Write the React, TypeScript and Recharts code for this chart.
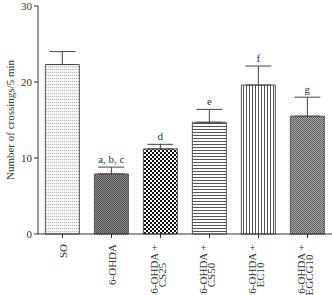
import { BarChart, Bar, XAxis, YAxis, ErrorBar, Cell, LabelList } from "recharts";

const groups = ["SO", "6-OHDA", "6-OHDA +\nCS25", "6-OHDA +\nCS50", "6-OHDA +\nEC10", "6-OHDA +\nEGCG10"];
const crossings = [22.3, 7.9, 11.2, 14.7, 19.6, 15.5];
const sem = [1.7, 0.9, 0.6, 1.7, 2.5, 2.5];
const marks = ["", "a, b, c", "d", "e", "f", "g"];
const fills = ["url(#pSO)", "url(#pOH)", "url(#pCS25)", "url(#pCS50)", "url(#pEC10)", "url(#pEGCG)"];
const yTicks = [0, 10, 20, 30];

const data = groups.map((g, i) => ({
  group: g,
  value: crossings[i],
  err: [0, sem[i]],
  sem: sem[i],
  mark: marks[i],
}));

const serif = "'Liberation Serif', 'Times New Roman', serif";
const ink = "#333";

function GroupTick(props: any) {
  const { x, y, payload } = props;
  const lines = String(payload.value).split("\n");
  if (lines.length === 1) {
    return (
      <text
        transform={`translate(${x + 4},${y + 4}) rotate(-90)`}
        textAnchor="end"
        fontFamily={serif}
        fontSize={11}
        fill={ink}
      >
        {lines[0]}
      </text>
    );
  }
  return (
    <g>
      {lines.map((l, i) => (
        <text
          key={i}
          transform={`translate(${x - 3 + i * 8},${y + (i === 0 ? 29 : 35)}) rotate(-90)`}
          textAnchor="middle"
          fontFamily={serif}
          fontSize={11}
          fill={ink}
        >
          {l}
        </text>
      ))}
    </g>
  );
}

function MarkLabel(props: any) {
  const { x, y, width, height, value, index } = props;
  if (!value) return null;
  const d = data[index];
  const top = y - (d.sem * height) / d.value;
  return (
    <text x={x + width / 2} y={top - 4} textAnchor="middle" fontFamily={serif} fontSize={11} fill={ink}>
      {value}
    </text>
  );
}

const yTitle = () => (
  <text
    transform="translate(14,120) rotate(-90)"
    textAnchor="middle"
    fontFamily={serif}
    fontSize={11}
    fill={ink}
  >
    Number of crossings/5 min
  </text>
);

export default function App() {
  return (
    <div style={{ position: "absolute", left: 0, top: 0, width: 332, height: 295, background: "#fff" }}>
      <BarChart width={332} height={295} data={data} margin={{ top: 6, right: 0, left: 0, bottom: 0 }} barCategoryGap="15%">
        <defs>
          <pattern id="pSO" width="2" height="3" patternUnits="userSpaceOnUse">
            <rect width="2" height="3" fill="#f4f4f4" />
            <rect width="1" height="1" fill="#b5b5b5" />
          </pattern>
          <pattern id="pOH" width="2" height="2" patternUnits="userSpaceOnUse">
            <rect width="2" height="2" fill="#8a8a8a" />
            <rect width="1" height="1" fill="#4f4f4f" />
            <rect x="1" y="1" width="1" height="1" fill="#4f4f4f" />
          </pattern>
          <pattern id="pCS25" width="4" height="4" patternUnits="userSpaceOnUse">
            <rect width="4" height="4" fill="#fff" />
            <rect width="2" height="2" fill="#111" />
            <rect x="2" y="2" width="2" height="2" fill="#111" />
          </pattern>
          <pattern id="pCS50" width="4" height="3" patternUnits="userSpaceOnUse">
            <rect width="4" height="3" fill="#fff" />
            <rect width="4" height="1" fill="#555" />
          </pattern>
          <pattern id="pEC10" width="3" height="4" patternUnits="userSpaceOnUse">
            <rect width="3" height="4" fill="#fff" />
            <rect width="1" height="4" fill="#555" />
          </pattern>
          <pattern id="pEGCG" width="2" height="2" patternUnits="userSpaceOnUse">
            <rect width="2" height="2" fill="#a8a8a8" />
            <rect width="1" height="1" fill="#5e5e5e" />
            <rect x="1" y="1" width="1" height="1" fill="#5e5e5e" />
          </pattern>
        </defs>
        <XAxis
          dataKey="group"
          height={61}
          interval={0}
          tick={<GroupTick />}
          tickSize={4}
          stroke={ink}
        />
        <YAxis
          width={38}
          domain={[0, 30]}
          ticks={yTicks}
          tickSize={4}
          stroke={ink}
          tick={{ fontFamily: serif, fontSize: 11, fill: ink }}
          label={yTitle}
        />
        <Bar dataKey="value" stroke="#555" strokeWidth={1} isAnimationActive={false}>
          {data.map((_, i) => (
            <Cell key={i} fill={fills[i]} />
          ))}
          <ErrorBar dataKey="err" direction="y" width={13} stroke="#444" strokeWidth={1} />
          <LabelList dataKey="mark" content={<MarkLabel />} />
        </Bar>
      </BarChart>
    </div>
  );
}
